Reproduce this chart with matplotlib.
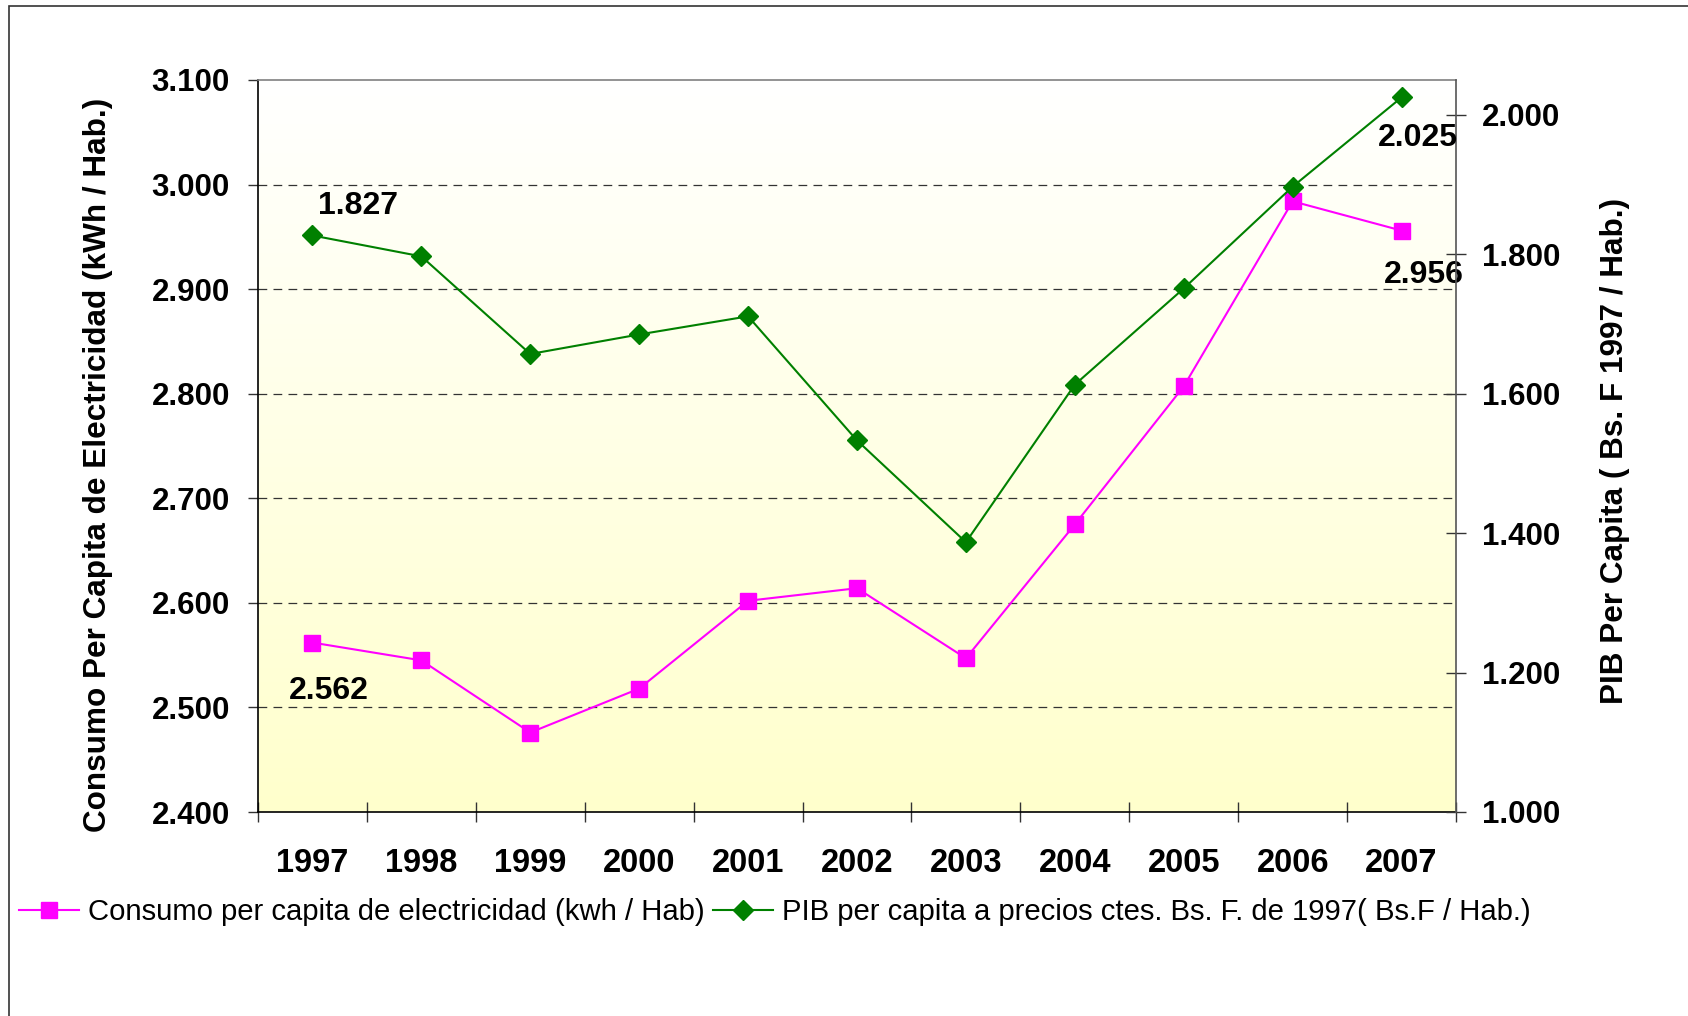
import numpy as np
import matplotlib
matplotlib.use("Agg")
import matplotlib.pyplot as plt
from matplotlib.patches import Rectangle
from matplotlib.lines import Line2D

# ---------------- data ----------------
years = ['1997', '1998', '1999', '2000', '2001', '2002',
         '2003', '2004', '2005', '2006', '2007']
consumo = [2562, 2545, 2476, 2518, 2602, 2614, 2547, 2675, 2807, 2984, 2956]
pib = [1827, 1797, 1657, 1685, 1711, 1533, 1387, 1613, 1751, 1897, 2025]
left_ticks = [2400, 2500, 2600, 2700, 2800, 2900, 3000, 3100]
right_ticks = [1000, 1200, 1400, 1600, 1800, 2000]
right_max = 2050
label_consumo = 'Consumo per capita de electricidad (kwh / Hab)'
label_pib = 'PIB per capita a precios ctes. Bs. F. de 1997( Bs.F / Hab.)'
ylabel_left = 'Consumo Per Capita de Electricidad (kWh / Hab.)'
ylabel_right = 'PIB Per Capita ( Bs. F 1997 / Hab.)'


def fmt(v):
    return f"{v:,.0f}".replace(',', '.')


plt.rcParams['font.family'] = ['Liberation Sans', 'DejaVu Sans']

W, H = 1688, 1016
fig = plt.figure(figsize=(W / 100, H / 100), dpi=100)
fig.patch.set_facecolor('white')

L, T, R, B = 258, 80, 1456, 812
ax = fig.add_axes([L / W, 1 - B / H, (R - L) / W, (B - T) / H])
ax2 = ax.twinx()

x = np.arange(len(years))
ax.set_xlim(-0.5, len(years) - 0.5)
ax.set_ylim(left_ticks[0], left_ticks[-1])
ax2.set_ylim(right_ticks[0], right_max)

# background gradient
grad = np.linspace(0, 1, 256).reshape(-1, 1)
top = np.array([1.0, 1.0, 1.0])
bot = np.array([1.0, 1.0, 0.80])
img = top + (bot - top) * grad[..., None]
img = img.reshape(256, 1, 3)
ax.imshow(img, extent=[-0.5, len(years) - 0.5, left_ticks[0], left_ticks[-1]],
          aspect='auto', origin='upper', zorder=0, interpolation='bilinear')
ax.set_facecolor('none')

# gridlines
for t in left_ticks[1:-1]:
    ax.axhline(t, color='#333333', lw=0.9, dashes=(7, 5), zorder=1)

# series
mag = '#FF00FF'
grn = '#008000'
ax.plot(x, consumo, color=mag, lw=1.5, marker='s', ms=11.5, mec=mag, mfc=mag,
        zorder=3)
ax2.plot(x, pib, color=grn, lw=1.5, marker='D', ms=10.5, mec=grn, mfc=grn,
         zorder=3)

# data labels
lab_kw = dict(fontsize=23, fontweight='bold', ha='center', va='center',
              textcoords='offset points', color='black')
ax2.annotate(fmt(pib[0]), (x[0], pib[0]), xytext=(33, 21), **lab_kw)
ax.annotate(fmt(consumo[0]), (x[0], consumo[0]), xytext=(12, -35), **lab_kw)
ax2.annotate(fmt(pib[-1]), (x[-1], pib[-1]), xytext=(12, -29.5), **lab_kw)
ax.annotate(fmt(consumo[-1]), (x[-1], consumo[-1]), xytext=(16, -32), **lab_kw)

# x axis ticks (boundaries) and labels (centers)
ax.set_xticks(np.arange(-0.5, len(years), 1.0))
ax.set_xticklabels([])
ax.set_xticks(x, minor=True)
ax.set_xticklabels(years, minor=True, fontsize=23.5, fontweight='bold')
ax.tick_params(axis='x', which='major', direction='inout', length=14.4,
               width=1.0, color='#333333')
ax.tick_params(axis='x', which='minor', length=0, pad=26)

# left y axis
ax.set_yticks(left_ticks)
ax.set_yticklabels([fmt(v) for v in left_ticks], fontsize=22.5,
                   fontweight='bold')
ax.tick_params(axis='y', direction='out', length=7.2, width=1.0,
               color='#333333', pad=13)

# right y axis
ax2.set_yticks(right_ticks)
ax2.set_yticklabels([fmt(v) for v in right_ticks], fontsize=22.5,
                    fontweight='bold')
ax2.tick_params(axis='y', direction='inout', length=15, width=1.0,
                color='#333333', pad=11)

# spines
ax.spines['left'].set_color('black')
ax.spines['bottom'].set_color('black')
ax.spines['top'].set_color('#808080')
ax.spines['right'].set_visible(False)
for s in ['left', 'top', 'bottom']:
    ax2.spines[s].set_visible(False)
ax2.spines['right'].set_color('#555555')
for s in ax.spines.values():
    s.set_linewidth(1.2)
ax2.spines['right'].set_linewidth(1.2)

# axis titles
fig.text(98 / W, 1 - 464.5 / H, ylabel_left, rotation=90, ha='center',
         va='center', fontsize=22.7, fontweight='bold')
fig.text(1615 / W, 1 - 450.5 / H, ylabel_right, rotation=90, ha='center',
         va='center', fontsize=22.7, fontweight='bold')

# legend
h1 = Line2D([], [], color=mag, lw=1.5, marker='s', ms=11.5, mec=mag, mfc=mag)
h2 = Line2D([], [], color=grn, lw=1.5, marker='D', ms=10.5, mec=grn, mfc=grn)
fig.legend([h1, h2], [label_consumo, label_pib], loc='center left',
           bbox_to_anchor=(19 / W, 1 - 912 / H), ncol=2, frameon=False,
           fontsize=21.1, handlelength=2.05, handletextpad=0.3,
           columnspacing=0.3, borderpad=0, borderaxespad=0, numpoints=1)

# outer chart border (cropped at right/bottom)
fig.add_artist(Rectangle((9 / W, -0.2), 2.0, 1.2 - 6 / H,
                         transform=fig.transFigure, fill=False,
                         ec='#333333', lw=1.2))

fig.savefig('out.png', dpi=100)
